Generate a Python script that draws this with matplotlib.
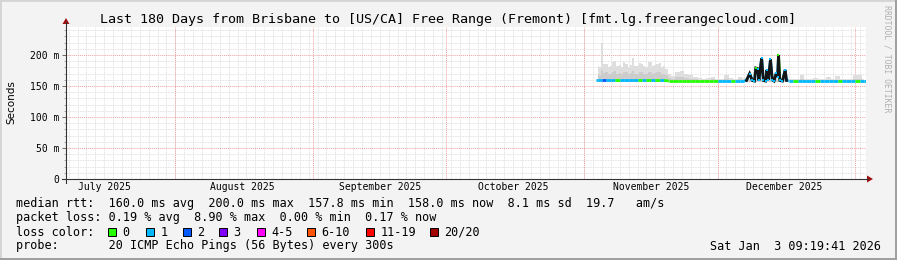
import matplotlib
matplotlib.use('Agg')
import matplotlib.pyplot as plt
import matplotlib.dates as mdates
from matplotlib.collections import LineCollection
from matplotlib.patches import Rectangle, Polygon
from datetime import datetime, timedelta

W, H = 897, 260

title = "Last 180 Days from Brisbane to [US/CA] Free Range (Fremont) [fmt.lg.freerangecloud.com]"
y_ticks = [0, 50, 100, 150, 200]
y_tick_labels = ["0", "50 m", "100 m", "150 m", "200 m"]
month_labels = ["July 2025", "August 2025", "September 2025", "October 2025",
                "November 2025", "December 2025"]
month_label_dates = [datetime(2025, 7, 16), datetime(2025, 8, 16), datetime(2025, 9, 16),
                     datetime(2025, 10, 16), datetime(2025, 11, 16), datetime(2025, 12, 16)]
month_starts = [datetime(2025, 8, 1), datetime(2025, 9, 1), datetime(2025, 10, 1),
                datetime(2025, 11, 1), datetime(2025, 12, 1), datetime(2026, 1, 1)]
t_start = datetime(2025, 7, 7, 9, 19, 41)
t_end = datetime(2026, 1, 3, 9, 19, 41)
base = datetime(2025, 11, 1)

# smoke (days since Nov 1 2025)
smoke_days = [3, 3.5, 4, 4.5, 5, 5.5, 6, 6.5, 7, 7.5, 8, 8.5, 9, 9.5, 10, 10.5, 11, 11.5, 12, 12.5,
              13, 13.5, 14, 14.5, 15, 15.5, 16, 16.5, 17, 17.5, 18, 18.5,
              19, 20, 21, 22, 23, 24, 25, 26, 27, 28, 29, 30, 31, 32, 33, 34, 35, 36, 37, 38, 39, 40, 41, 42,
              43, 44, 45, 46, 47, 48, 49, 50, 51, 52, 53, 54, 55, 56, 57, 58, 59, 60, 61, 62, 63]
smoke_upper = [183, 180, 220, 185, 186, 181, 182, 188, 190, 183, 184, 181, 188, 186, 180, 184, 195, 182, 183, 187,
               186, 182, 181, 189, 188, 183, 184, 186, 187, 181, 182, 178,
               170, 166, 172, 175,
               170, 168, 165, 163, 162, 163, 165, 162, 162, 168, 163, 162, 164, 163, 162, 162, 162, 162, 162, 162,
               162, 162, 162, 161, 161, 161, 168, 161, 161, 163, 161, 161, 165, 161, 166, 161, 161, 161, 168, 167, 161]
smoke_inner = [170, 168, 176, 171, 172, 169, 170, 173, 174, 170, 171, 169, 173, 172, 169, 171, 175, 170, 170, 172,
               172, 170, 169, 173, 173, 170, 171, 172, 172, 169, 170, 168,
               163, 162, 164, 165,
               163, 162, 161, 160, 160, 160, 161, 160, 160, 162, 160, 160, 161, 160, 160, 160, 160, 160, 160, 160,
               160, 160, 160, 159, 159, 159, 162, 159, 159, 160, 159, 159, 160, 159, 160, 159, 159, 159, 162, 161, 159]
smoke_lower = [157, 157, 157, 157, 157, 157, 157, 157, 157, 157, 157, 157, 157, 157, 157, 157, 157, 157, 157, 157,
               157, 157, 157, 157, 157, 157, 157, 157, 157, 157, 157, 157,
               157, 157, 157, 157,
               157, 157, 157, 157, 157, 157, 157, 157, 157, 157, 157, 157, 157, 157, 157, 157, 157, 157, 157, 157,
               157, 157, 157, 157, 157, 157, 157, 157, 157, 157, 157, 157, 157, 157, 157, 157, 157, 157, 157, 157, 157]

median_days = [2.7, 3, 4, 5, 6, 7, 8, 9, 10, 11, 12, 13, 14, 15, 16, 17, 18, 19, 20, 21, 22, 23, 24, 25,
               26, 27, 28, 29, 30, 31, 32, 33, 34, 35, 36,
               36.5, 37.2, 37.8, 38.3, 38.6, 39.0, 39.3, 39.9, 40.3, 40.8, 41.1, 41.4, 41.9, 42.3, 42.7,
               43.2, 43.5, 43.7, 44.0, 44.6, 45.2, 45.5,
               46, 47, 48, 49, 50, 51, 52, 53, 54, 55, 56, 57, 58, 59, 60, 61, 62, 63, 63.4]
median_ms = [159, 159, 159, 159, 159, 159, 159, 159, 159, 159, 159, 159, 159, 159, 159, 159, 159, 158, 158, 158,
             158, 158, 158, 158, 158, 158, 158, 158, 158, 158, 158, 158, 158, 158, 158,
             159, 170, 159, 158, 179, 178, 159, 195, 159, 158, 176, 160, 193, 160, 158,
             171, 165, 200, 159, 158, 176, 159,
             158, 158, 158, 158, 158, 158, 158, 158, 158, 158, 158, 158, 158, 158, 158, 158, 158, 158, 158]
median_loss = [1, 1, 2, 1, 1, 0, 1, 1, 1, 1, 0, 1, 0, 1, 0, 1, 0, 0, 0, 0, 0, 0, 0, 0,
               0, 0, 0, 0, 1, 1, 1, 0, 1, 1, 1,
               1, 1, 1, 1, 0, 1, 1, 1, 1, 1, 1, 1, 1, 1, 1,
               1, 1, 0, 1, 1, 1, 1,
               1, 0, 1, 1, 1, 1, 0, 1, 1, 1, 1, 0, 1, 1, 1, 0, 1, 1, 1]
spike_from, spike_to = 36.5, 45.5

loss_names = ["0", "1", "2", "3", "4-5", "6-10", "11-19", "20/20"]
loss_colors = ["#26ff00", "#00b8ff", "#0059ff", "#7e00ff", "#ff00ff", "#ff5500", "#ff0000", "#a10000"]

stats_lines = [
    "median rtt:  160.0 ms avg  200.0 ms max  157.8 ms min  158.0 ms now  8.1 ms sd  19.7   am/s",
    "packet loss: 0.19 % avg  8.90 % max  0.00 % min  0.17 % now",
]
probe_text = "probe:       20 ICMP Echo Pings (56 Bytes) every 300s"
date_text = "Sat Jan  3 09:19:41 2026"


def fx(x):
    return x / W


def fy(y):
    return 1 - y / H


mono = 'DejaVu Sans Mono'
fs_leg = 8.5
fig = plt.figure(figsize=(W / 100, H / 100), dpi=100)
fig.patch.set_facecolor('#f3f3f3')

# frame
fig.add_artist(Rectangle((0, 0), 1, 1, transform=fig.transFigure, fill=False,
                         edgecolor='#d4d4d4', linewidth=2))
fig.add_artist(Rectangle((fx(0), fy(260)), fx(897), 2 / H, transform=fig.transFigure,
                         color='#a0a0a0', linewidth=0))
fig.add_artist(Rectangle((fx(895), fy(260)), 2 / W, 1, transform=fig.transFigure,
                         color='#a0a0a0', linewidth=0))

L, R, T, B = 66, 866, 27, 179
ax = fig.add_axes([fx(L), fy(B), (R - L) / W, (B - T) / H])
ax.set_facecolor('white')
ms_per_px = 200 / (B - 55)
ax.set_ylim(0, (B - T) * ms_per_px)
ax.set_xlim(t_start, t_end)

# grid
minor_y = [v for v in range(10, 250, 10) if v % 50 != 0]
for v in minor_y:
    ax.axhline(v, color='#d8d8d8', lw=0.6, ls=(0, (1, 1)), zorder=0)
d = datetime(2025, 7, 8)
while d < t_end:
    ax.axvline(d, color='#d8d8d8', lw=0.6, ls=(0, (1, 1)), zorder=0)
    d += timedelta(days=2)
for v in y_ticks[1:]:
    ax.axhline(v, color='#f0a0a0', lw=0.7, ls=(0, (1, 1)), zorder=0.5)
for m in month_starts:
    ax.axvline(m, color='#f0a0a0', lw=0.7, ls=(0, (1, 1)), zorder=0.5)

# smoke
st = [base + timedelta(days=v) for v in smoke_days]
ax.fill_between(st, smoke_lower, smoke_upper, step='mid', color='#dedede', lw=0, zorder=1)
ax.fill_between(st, smoke_lower, smoke_inner, step='mid', color='#cccccc', lw=0, zorder=1.1)

# median line coloured by loss
mt = [mdates.date2num(base + timedelta(days=v)) for v in median_days]
segs, cols = [], []
for i in range(len(mt) - 1):
    segs.append([(mt[i], median_ms[i]), (mt[i + 1], median_ms[i + 1])])
    cols.append(loss_colors[median_loss[i]])
ax.add_collection(LineCollection(segs, colors=cols, linewidths=2.0, zorder=3, capstyle='butt'))
sp = [(mt[i], median_ms[i]) for i in range(len(mt)) if spike_from <= median_days[i] <= spike_to]
ax.plot([p[0] for p in sp], [p[1] for p in sp], color='#151515', lw=2.0, zorder=4,
        solid_joinstyle='miter')
for i in range(len(mt)):
    if spike_from < median_days[i] < spike_to:
        ax.plot(mt[i], median_ms[i], 's', ms=2.0, color=loss_colors[median_loss[i]], mew=0, zorder=5)

ax.set_yticks(y_ticks)
ax.set_yticklabels(y_tick_labels, fontfamily=mono, fontsize=7)
ax.set_yticks(minor_y, minor=True)
ax.tick_params(axis='y', which='major', length=3, width=0.6, color='#555555', pad=2)
ax.tick_params(axis='y', which='minor', length=1.5, width=0.5, color='#888888')
ax.set_xticks([])
for s in ax.spines.values():
    s.set_visible(False)

# axes lines + arrows
fig.add_artist(plt.Line2D([fx(L), fx(L)], [fy(B + 4), fy(22)], transform=fig.transFigure,
                          color='#333333', lw=0.8))
fig.add_artist(plt.Line2D([fx(L - 4), fx(R + 2)], [fy(B), fy(B)], transform=fig.transFigure,
                          color='#333333', lw=0.8))
fig.add_artist(Polygon([(fx(L - 3.5), fy(24)), (fx(L + 3.5), fy(24)), (fx(L), fy(18))],
                       closed=True, transform=fig.transFigure, color='#a01010', lw=0))
fig.add_artist(Polygon([(fx(R + 1), fy(B - 3.5)), (fx(R + 1), fy(B + 3.5)), (fx(R + 7), fy(B))],
                       closed=True, transform=fig.transFigure, color='#a01010', lw=0))

# month labels
for lab, dt in zip(month_labels, month_label_dates):
    xpix = L + (mdates.date2num(dt) - mdates.date2num(t_start)) / \
        (mdates.date2num(t_end) - mdates.date2num(t_start)) * (R - L)
    fig.text(fx(xpix), fy(187), lab, ha='center', va='center', fontfamily=mono, fontsize=7)

fig.text(fx(448), fy(19), title, ha='center', va='center', fontfamily=mono, fontsize=9.6)
fig.text(fx(11), fy(102), "Seconds", rotation=90, ha='center', va='center',
         fontfamily='DejaVu Sans', fontsize=7.5)
fig.text(fx(887), fy(5), "RRDTOOL / TOBI OETIKER", rotation=270, ha='center', va='top',
         fontfamily=mono, fontsize=5.9, color='#b0b0b0')

fig.text(fx(16), fy(204), stats_lines[0], ha='left', va='center', fontfamily=mono, fontsize=fs_leg)
fig.text(fx(16), fy(218), stats_lines[1], ha='left', va='center', fontfamily=mono, fontsize=fs_leg)
fig.text(fx(16), fy(232), "loss color:", ha='left', va='center', fontfamily=mono, fontsize=fs_leg)
box_x = [108, 146, 183, 219, 257, 307, 366, 430]
for bx, name, c in zip(box_x, loss_names, loss_colors):
    fig.add_artist(Rectangle((fx(bx), fy(236)), 8 / W, 8 / H, transform=fig.transFigure,
                             facecolor=c, edgecolor='black', lw=0.7))
    fig.text(fx(bx + 14.5), fy(232), name, ha='left', va='center', fontfamily=mono, fontsize=fs_leg)
fig.text(fx(16), fy(246), probe_text, ha='left', va='center', fontfamily=mono, fontsize=fs_leg)
fig.text(fx(881), fy(246), date_text, ha='right', va='center', fontfamily=mono, fontsize=fs_leg)

fig.savefig('out.png', dpi=100, facecolor=fig.get_facecolor())
